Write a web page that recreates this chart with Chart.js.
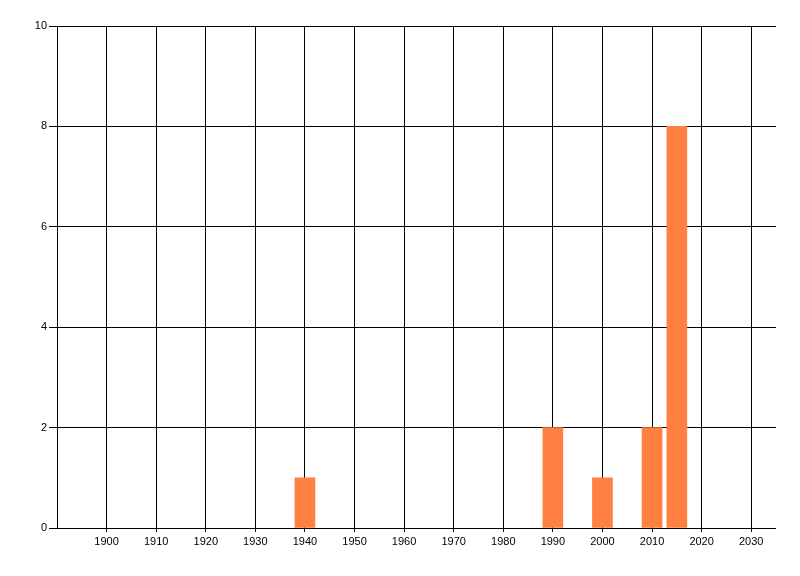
<!DOCTYPE html>
<html>
<head>
    <title>Counts by year</title>
    <script src="https://cdn.jsdelivr.net/npm/chart.js"></script>
    <style type="text/css">
        html, body { margin: 0; padding: 0; background: #fff; }
        #wrap { width: 800px; height: 576px; }
    </style>
</head>
<body>
    <div id="wrap"><canvas id="chart" width="800" height="576"></canvas></div>

    <script type="text/javascript">
        // values
        const years = [1940, 1990, 2000, 2010, 2015];
        const counts = [1, 2, 1, 2, 8];
        const xTicks = [1900, 1910, 1920, 1930, 1940, 1950, 1960, 1970, 1980, 1990, 2000, 2010, 2020, 2030];
        const yTicks = [0, 2, 4, 6, 8, 10];

        const font = { family: 'Liberation Sans', size: 11 };

        new Chart(document.getElementById('chart'), {
            type: 'bar',
            data: {
                datasets: [{
                    data: years.map((y, i) => ({ x: y, y: counts[i] })),
                    backgroundColor: '#ff8040',
                    borderWidth: 0,
                    barThickness: 20
                }]
            },
            options: {
                responsive: false,
                animation: false,
                layout: { padding: { left: 0, right: 24, top: 26, bottom: 0 } },
                plugins: { legend: { display: false }, tooltip: { enabled: false } },
                scales: {
                    x: {
                        type: 'linear',
                        min: 1890,
                        max: 2035,
                        offset: false,
                        afterBuildTicks: s => { s.ticks = xTicks.map(v => ({ value: v })); },
                        afterFit: s => { s.height = 48; },
                        grid: { color: '#000', lineWidth: 1, tickLength: 4, offset: false },
                        border: { display: false },
                        ticks: { color: '#000', font: font, padding: 3, maxRotation: 0, autoSkip: false,
                                 callback: v => String(v) }
                    },
                    y: {
                        min: 0,
                        max: 10,
                        afterBuildTicks: s => { s.ticks = yTicks.map(v => ({ value: v })); },
                        afterFit: s => { s.width = 57; },
                        grid: { color: '#000', lineWidth: 1, tickLength: 8 },
                        border: { display: true, color: '#000' },
                        ticks: { color: '#000', font: font, padding: 2 }
                    }
                }
            }
        });
    </script>
</body>
</html>
